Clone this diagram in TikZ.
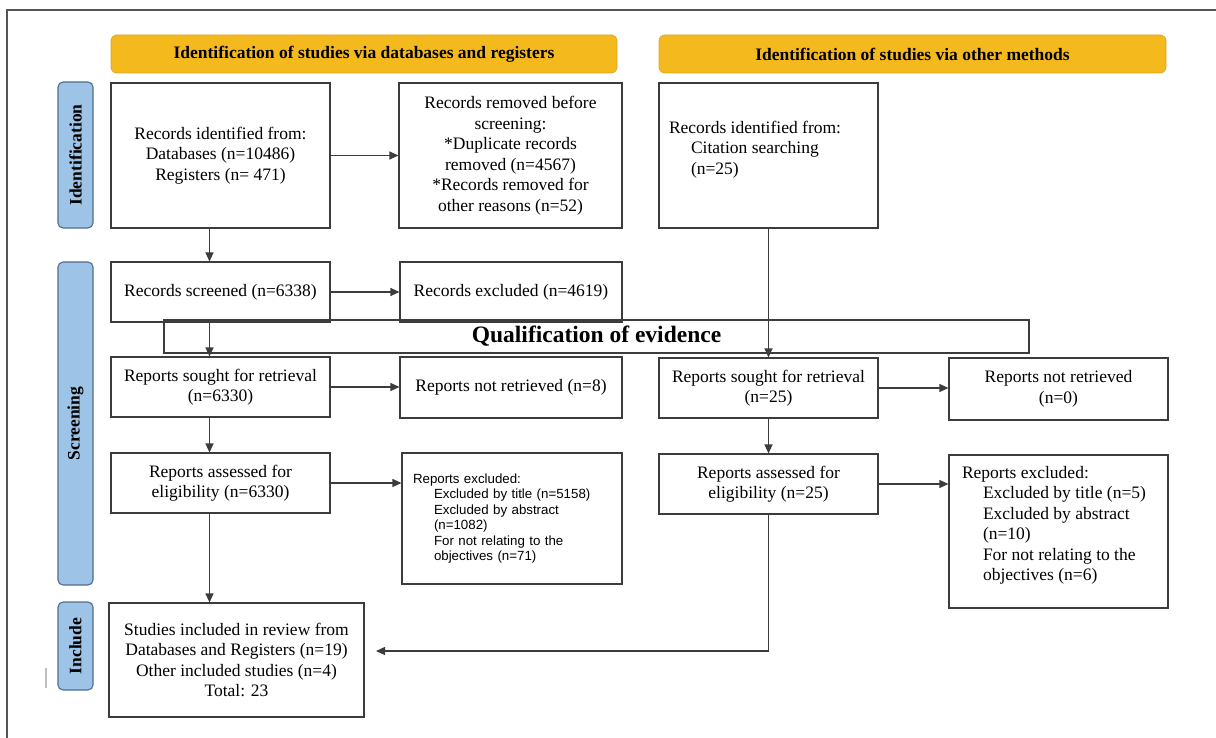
\documentclass[tikz,border=0pt]{standalone}
\usepackage{fontspec}
\setmainfont{Liberation Serif}
\newfontfamily\arialf{Liberation Sans}
\usetikzlibrary{arrows.meta}
\definecolor{linec}{HTML}{3C3C3C}
\definecolor{framec}{HTML}{555555}
\definecolor{hdrfill}{HTML}{F4B91C}
\definecolor{hdrdraw}{HTML}{DDA526}
\definecolor{sidefill}{HTML}{9DC3E6}
\definecolor{sidedraw}{HTML}{4F6D8C}
\begin{document}
\begin{tikzpicture}[x=1pt,y=-1pt,
  box/.style={draw=linec, line width=1.1pt, fill=white, inner sep=0pt, align=center, font=\fontsize{17.5}{20.5}\selectfont},
  hdr/.style={draw=hdrdraw, line width=0.8pt, fill=hdrfill, rounded corners=6pt, inner sep=0pt, minimum height=38pt, font=\fontsize{17.5}{20}\selectfont\bfseries},
  side/.style={draw=sidedraw, line width=1.1pt, fill=sidefill, rounded corners=5pt, inner sep=0pt, rotate=90, minimum height=35pt, font=\fontsize{17.5}{20}\selectfont\bfseries},
  arr/.style={draw=linec, line width=1.1pt, -{Triangle[length=9pt,width=8pt]}},
]
\useasboundingbox (0,0) rectangle (1216,738);
\coordinate (frtr) at (1216,10);
\coordinate (frbl) at (7,738);
\draw[draw=framec, line width=1.4pt] (frtr) -- (7,10) -- (frbl);
\coordinate (tickA) at (46,668);
\coordinate (tickB) at (46,688);
\draw[draw=gray!50, line width=1.5pt] (tickA) -- (tickB);

% headers
\node[hdr, minimum width=506pt] (h1) at (364,54) {\raisebox{-1.5pt}{Identification of studies via databases and registers}};
\node[hdr, minimum width=507pt] (h2) at (912.5,54) {\raisebox{-1.5pt}{Identification of studies via other methods}};

% side labels
\node[side, minimum width=146pt] (sid) at (75.5,155) {Identification};
\node[side, minimum width=323pt] (sscr) at (75.5,423.5) {Screening};
\node[side, minimum width=88pt] (sinc) at (75.5,646) {Include};

% identification row
\node[box, minimum width=219pt, minimum height=145pt] (idA) at (220.5,155.5) {Records identified from:\\Databases (n=10486)\\Registers (n= 471)};
\node[box, minimum width=223pt, minimum height=145pt] (idB) at (510.5,155.5) {Records removed before\\screening:\\*Duplicate records\\removed (n=4567)\\*Records removed for\\other reasons (n=52)};
\node[box, inner xsep=10pt, minimum width=219pt, minimum height=145pt] (idC) at (768.5,155.5) {\parbox[c][145pt][t]{199pt}{\raggedright\vspace*{38pt}Records identified from:\\\hspace*{22pt}Citation searching\\\hspace*{22pt}(n=25)}};

% screening
\node[box, minimum width=219pt, minimum height=60pt] (scr) at (220.5,292) {Records screened (n=6338)};
\node[box, minimum width=222pt, minimum height=60pt] (excl) at (511,292) {Records excluded (n=4619)};

\node[box, minimum width=219pt, minimum height=60pt] (sought1) at (220.5,387) {Reports sought for retrieval\\(n=6330)};
\node[box, minimum width=222pt, minimum height=61pt] (notret1) at (511,387.5) {Reports not retrieved (n=8)};
\node[box, minimum width=219pt, minimum height=60pt] (sought2) at (768.5,388) {Reports sought for retrieval\\(n=25)};
\node[box, minimum width=219pt, minimum height=62pt] (notret2) at (1058.5,389) {Reports not retrieved\\(n=0)};

\node[box, minimum width=219pt, minimum height=60pt] (assess1) at (220.5,483) {Reports assessed for\\eligibility (n=6330)};
\node[box, font=\arialf\fontsize{13.3}{15.4}\selectfont, align=left, inner xsep=11pt, text width=198pt, minimum width=220pt, minimum height=131pt] (exc1) at (512,518.5) {Reports excluded:\\\hspace*{21pt}Excluded by title (n=5158)\\\hspace*{21pt}Excluded by abstract\\\hspace*{21pt}(n=1082)\\\hspace*{21pt}For not relating to the\\\hspace*{21pt}objectives (n=71)};
\node[box, minimum width=219pt, minimum height=60pt] (assess2) at (768.5,484) {Reports assessed for\\eligibility (n=25)};
\node[box, inner xsep=13pt, minimum width=219pt, minimum height=153pt] (exc2) at (1058.5,531.5) {\parbox[c][153pt][t]{193pt}{\raggedright\vspace*{11pt}Reports excluded:\\\hspace*{21pt}Excluded by title (n=5)\\\hspace*{21pt}Excluded by abstract\\\hspace*{21pt}(n=10)\\\hspace*{21pt}For not relating to the\\\hspace*{21pt}objectives (n=6)}};

\node[box, minimum width=255pt, minimum height=114pt] (incl) at (236.5,660) {Studies included in review from\\Databases and Registers (n=19)\\Other included studies (n=4)\\Total: 23};

% qualification band
\node[draw=linec, line width=1.1pt, inner sep=0pt, minimum width=865pt, minimum height=33pt, font=\fontsize{23.5}{26}\selectfont\bfseries] (qual) at (596.5,336.5) {Qualification of evidence};

% connectors
\coordinate (inclin) at (376,651);
\draw[arr] (idA) -- (idB);
\draw[arr] ([xshift=-11pt]idA.south) -- ([xshift=-11pt]scr.north);
\draw[arr] (scr) -- (excl);
\draw[arr] ([xshift=-11pt]scr.south) -- ([xshift=-11pt]sought1.north);
\draw[arr] (sought1.east) -- (sought1.east -| notret1.west);
\draw[arr] ([xshift=-11pt]sought1.south) -- ([xshift=-11pt]assess1.north);
\draw[arr] (assess1.east) -- (assess1.east -| exc1.west);
\draw[arr] ([xshift=-11pt]assess1.south) -- ([xshift=-11pt]assess1.south |- incl.north);
\draw[arr] (idC) -- (sought2);
\draw[arr] (sought2.east) -- (sought2.east -| notret2.west);
\draw[arr] (sought2) -- (assess2);
\draw[arr] (assess2.east) -- (assess2.east -| exc2.west);
\draw[arr] (assess2.south) |- (inclin);
\end{tikzpicture}
\end{document}
